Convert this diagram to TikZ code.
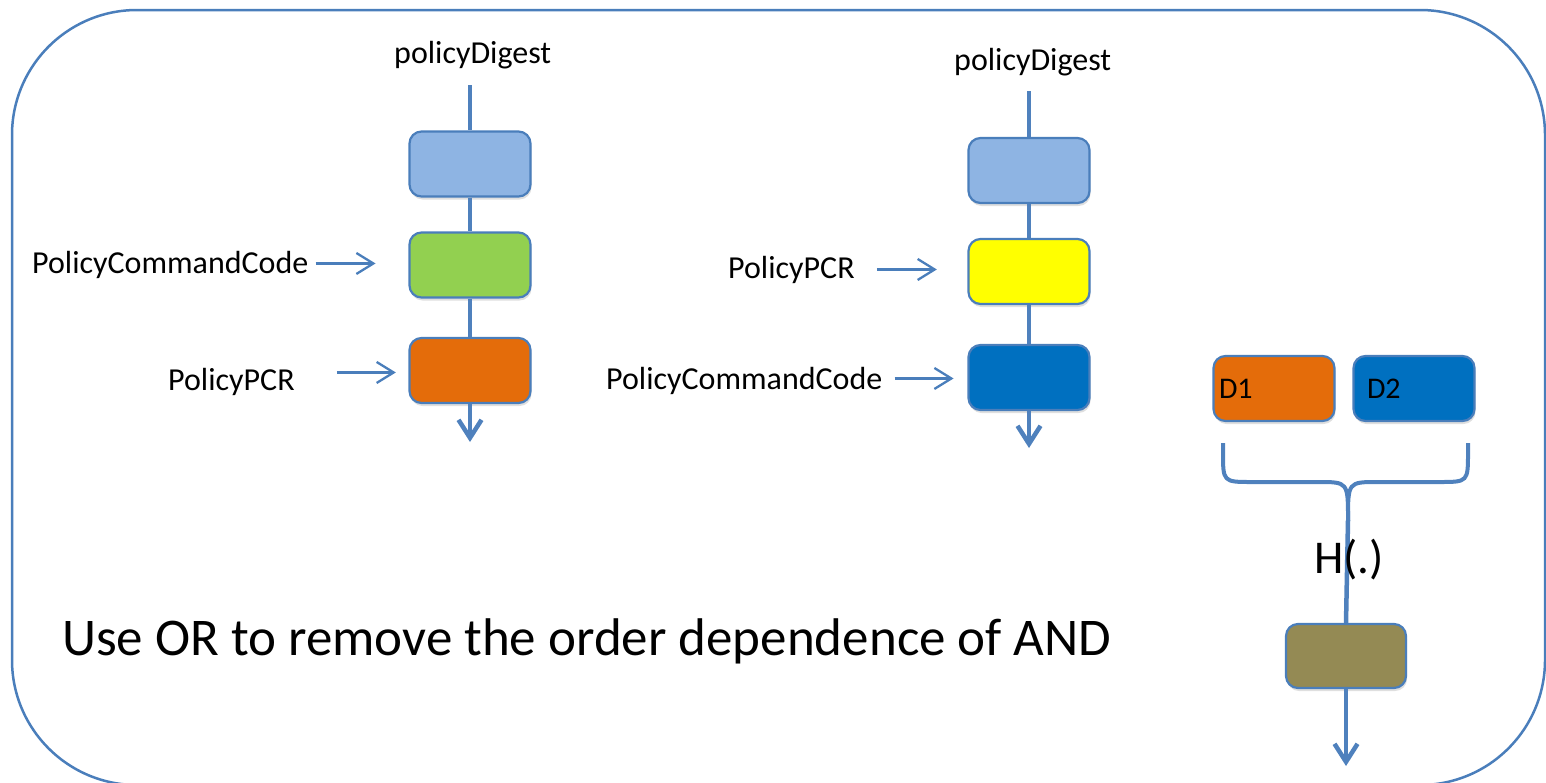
\documentclass[tikz,border=0pt]{standalone}
\usepackage{fontspec}
\setmainfont{Carlito}
\usetikzlibrary{arrows.meta,shadows}

\definecolor{edgeblue}{HTML}{4A7EBB}
\definecolor{stemblue}{HTML}{4F81BD}
\definecolor{lightblue}{HTML}{8EB4E3}
\definecolor{lightgreen}{HTML}{92D050}
\definecolor{darkorange}{HTML}{E46C0A}
\definecolor{brightyellow}{HTML}{FFFF00}
\definecolor{deepblue}{HTML}{0070C0}
\definecolor{olivebrown}{HTML}{948A54}

\tikzset{
  stepbox/.style={draw=edgeblue, line width=2.2pt, rounded corners=12pt,
    minimum width=121pt, minimum height=65pt, inner sep=0pt,
    drop shadow={opacity=0.25, shadow xshift=1pt, shadow yshift=-3pt}},
  label/.style={font=\fontsize{32}{38}\selectfont, inner sep=0pt, anchor=base west},
  stem/.style={draw=stemblue, line width=4.5pt},
  stemarrow/.style={stem, -{Straight Barb[length=18pt,width=23pt]}},
  feed/.style={draw=edgeblue, line width=2.3pt, -{Straight Barb[length=17pt,width=21pt]}},
}

\begin{document}
\begin{tikzpicture}[x=1pt,y=-1pt]
\useasboundingbox (0,0) rectangle (1546,782);
\clip (0,0) rectangle (1546,782);

% outer frame
\draw[edgeblue, line width=2.5pt, rounded corners=125pt] (12,10) rectangle (1545,785);

% ---- first chain: command code, then PCR ----
\node[label] (ldig) at (394,63) {policyDigest};
\coordinate (ltop) at (470,85);
\node[stepbox, fill=lightblue]  (l1) at (470,164) {};
\node[stepbox, fill=lightgreen] (l2) at (470,265) {};
\node[stepbox, fill=darkorange] (l3) at (470,370.5) {};
\coordinate (lend) at (470,442);
\draw[stem] (ltop) -- (l1.north);
\draw[stem] (l1.south) -- (l2.north);
\draw[stem] (l2.south) -- (l3.north);
\draw[stemarrow] (l3.south) -- (lend);

\node[label] (lcc) at (32,273) {PolicyCommandCode};
\node[label] (lpcr) at (168,390) {PolicyPCR};
\draw[feed] ([xshift=7pt,yshift=1pt]lcc.east) -- ++(60,0);
\draw[feed] ([xshift=42pt,yshift=9pt]lpcr.east) -- ++(59,0);

% ---- second chain: PCR, then command code ----
\node[label] (rdig) at (954,70) {policyDigest};
\coordinate (rtop) at (1029,91);
\node[stepbox, fill=lightblue]    (r1) at (1029,170.5) {};
\node[stepbox, fill=brightyellow] (r2) at (1029,271.5) {};
\node[stepbox, fill=deepblue]     (r3) at (1029,377.5) {};
\coordinate (rend) at (1029,448);
\draw[stem] (rtop) -- (r1.north);
\draw[stem] (r1.south) -- (r2.north);
\draw[stem] (r2.south) -- (r3.north);
\draw[stemarrow] (r3.south) -- (rend);

\node[label] (rpcr) at (728,278) {PolicyPCR};
\node[label] (rcc) at (606,389) {PolicyCommandCode};
\draw[feed] ([xshift=22pt]rpcr.east) -- ++(60,0);
\draw[feed] ([xshift=12pt,yshift=2pt]rcc.east) -- ++(59,0);

% ---- OR of the two digests ----
\node[stepbox, fill=darkorange, font=\fontsize{30}{36}\selectfont, align=left,
      text width=110pt, inner xsep=5pt] (d1) at (1274,388.5) {D1};
\node[stepbox, fill=deepblue, font=\fontsize{30}{36}\selectfont, align=left,
      text width=94pt, inner xsep=13pt] (d2) at (1414,388.5) {D2};

\coordinate (bjoin) at (1348,520);
\draw[stemblue, line width=4pt]
  (1223,443) -- (1223,452) .. controls (1223,482) .. (1252,482) -- (1318,482)
  .. controls (1348,482) .. (bjoin);
\draw[stemblue, line width=4pt]
  (1468,443) -- (1468,452) .. controls (1468,482) .. (1439,482) -- (1378,482)
  .. controls (1348,482) .. (bjoin);

\node[stepbox, fill=olivebrown, minimum width=120pt, minimum height=64pt] (hout) at (1346,656) {};
\coordinate (hend) at (1346,766);
\draw[stem] (bjoin) -- (hout.north);
\draw[stemarrow] (hout.south) -- (hend);
\node[font=\fontsize{47}{56}\selectfont, inner sep=0pt, anchor=base west] (hlbl) at (1314,573) {H(.)};

% caption
\node[font=\fontsize{53}{64}\selectfont, inner sep=0pt, anchor=base west] (cap) at (62,655)
  {Use OR to remove the order dependence of AND};
\end{tikzpicture}
\end{document}
